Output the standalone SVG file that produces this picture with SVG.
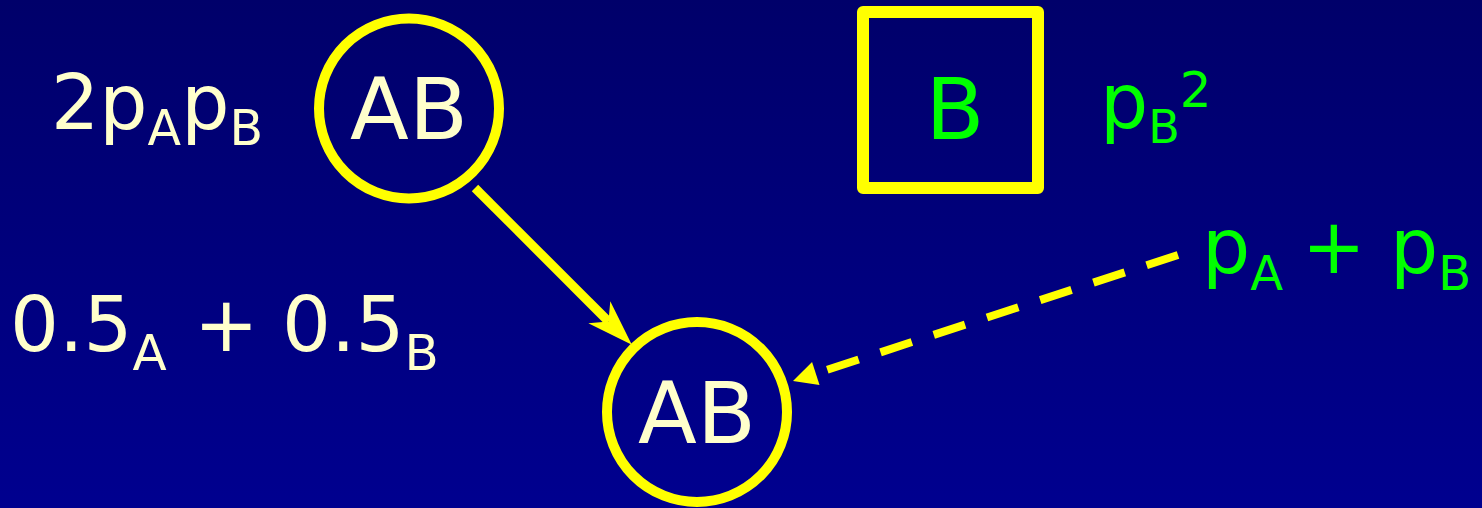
<svg xmlns="http://www.w3.org/2000/svg" width="1482" height="508" viewBox="0 0 1482 508">
  <defs>
    <linearGradient id="bg" x1="0" y1="0" x2="0" y2="1">
      <stop offset="0" stop-color="#00006a"/>
      <stop offset="1" stop-color="#00008f"/>
    </linearGradient>
    <!-- notched head for the solid connector; origin sits at the notch -->
    <marker id="head-notch" markerUnits="userSpaceOnUse" markerWidth="60" markerHeight="40" refX="0" refY="0" viewBox="-15 -20 60 40" orient="auto" overflow="visible">
      <path d="M33,0 L-13,-15.5 L0,0 L-13,15.5 Z" fill="#ffff00"/>
    </marker>
    <!-- plain triangular head for the dashed connector; origin at its base -->
    <marker id="head-tri" markerUnits="userSpaceOnUse" markerWidth="40" markerHeight="40" refX="0" refY="0" viewBox="-5 -20 40 40" orient="auto" overflow="visible">
      <path d="M0,-12 L24,0 L0,12 Z" fill="#ffff00"/>
    </marker>
    <style>
      .lbl { font-family: "DejaVu Sans", "Liberation Sans", sans-serif; }
      .cream { fill: #ffffcc; }
      .green { fill: #00ff00; }
      .node { fill: none; stroke: #ffff00; stroke-width: 10; }
      .box { fill: none; stroke: #ffff00; stroke-width: 12; stroke-linejoin: round; }
      .edge { fill: none; stroke: #ffff00; stroke-width: 9; }
      .dashed { stroke-dasharray: 33 23; stroke-width: 8; }
    </style>
  </defs>

  <rect x="0" y="0" width="1482" height="508" fill="url(#bg)"/>

  <!-- frequency labels -->
  <g id="label-2pApB">
    <text class="lbl cream" x="51" y="129" font-size="76">2p<tspan font-size="49" dy="16">A</tspan><tspan dy="-16">p</tspan><tspan font-size="49" dy="16">B</tspan></text>
  </g>
  <g id="label-half">
    <text class="lbl cream" x="10" y="351" font-size="77">0.5<tspan font-size="50" dy="19">A</tspan><tspan x="194" dy="-19">+</tspan><tspan x="282">0.5</tspan><tspan font-size="50" dy="19">B</tspan></text>
  </g>
  <g id="label-pB2">
    <text class="lbl green" x="1100" y="128" font-size="76">p<tspan font-size="46" dy="15">B</tspan><tspan font-size="50" dy="-36">2</tspan></text>
  </g>
  <g id="label-sum">
    <text class="lbl green" x="1202" y="273" font-size="76">p<tspan font-size="48" dy="17">A</tspan><tspan x="1302" dy="-17">+</tspan><tspan x="1390">p</tspan><tspan font-size="48" dy="17">B</tspan></text>
  </g>

  <!-- parent nodes -->
  <g id="node-parent-ab">
    <circle class="node" cx="409" cy="108.5" r="90"/>
    <text class="lbl cream" x="409" y="139" font-size="86" text-anchor="middle">AB</text>
  </g>
  <g id="node-parent-b">
    <rect class="box" x="863" y="12" width="175" height="176"/>
    <text class="lbl green" x="955" y="139" font-size="86" text-anchor="middle">B</text>
  </g>

  <!-- offspring node -->
  <g id="node-child-ab">
    <circle class="node" cx="697" cy="412" r="90"/>
    <text class="lbl cream" x="697" y="443" font-size="86" text-anchor="middle">AB</text>
  </g>

  <!-- connectors -->
  <g id="connectors">
    <path class="edge" d="M475,188 L608.5,321.5" marker-end="url(#head-notch)"/>
    <path class="edge dashed" d="M1178,255 L815.8,373.5" marker-end="url(#head-tri)"/>
  </g>
</svg>
